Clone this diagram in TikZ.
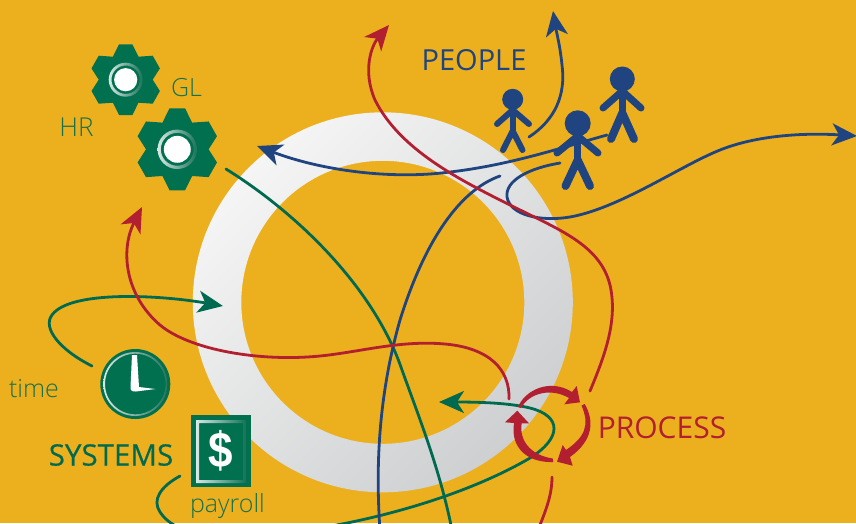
\documentclass[tikz,border=0pt]{standalone}
\usepackage{fontspec}
\setmainfont{Open Sans}
\newfontfamily\lightf{Open Sans Light}
\newfontfamily\semif[FakeBold=0.35]{Open Sans}
\newfontfamily\dollarf[FakeStretch=0.88]{Liberation Sans Bold}
\usetikzlibrary{arrows.meta}
\definecolor{bgc}{HTML}{ECB01E}
\definecolor{grn}{HTML}{00704F}
\definecolor{grnl}{HTML}{006A50}
\definecolor{blu}{HTML}{1F4480}
\definecolor{rd}{HTML}{B21F30}
\definecolor{ringa}{HTML}{F5F5F5}
\definecolor{ringb}{HTML}{CDCFD0}
\tikzset{
 curve/.style={line width=2.8pt,line cap=round},
 grc/.style={curve,draw=grnl},
 rdc/.style={curve,draw=rd},
 blc/.style={curve,draw=blu},
 bighead/.style={-{Stealth[length=25pt,width=22pt,inset=7pt]}},
 person/.style={draw=blu,line cap=round,line join=round},
 lab/.style={inner sep=0pt,anchor=center},
}
\newcommand{\gearshape}[3]{%
 \begin{scope}[shift={(#1,#2)},scale=#3]
  \fill[grn] (-6.7,-35.3)--(6.7,-35.3)--(12.8,-23)--(27,-24)--(34.2,-11.3)--(27,0)--(34.2,11.3)--(27,24)--(12.8,23)--(6.7,35.3)--(-6.7,35.3)--(-12.8,23)--(-27,24)--(-34.2,11.3)--(-27,0)--(-34.2,-11.3)--(-27,-24)--(-12.8,-23)--cycle;
  \shade[even odd rule,left color=white!85!grn,right color=grn!80!gray] (0,0) circle (17) (0,0) circle (14.2);
  \fill[white] (0,0) circle (11.6);
 \end{scope}}
\begin{document}
\begin{tikzpicture}[x=1pt,y=-1pt]
\useasboundingbox (0,0) rectangle (856,523);
\fill[bgc] (0,0) rectangle (856,523);
% ring
\shade[even odd rule,top color=ringa,bottom color=ringb,shading angle=45] (382.8,302.3) circle (190) (382.8,302.3) circle (141.5);
\begin{scope}
\clip (0,0) rectangle (856,523);
% green
\draw[grc] (226,169) .. controls (300,215) and (375,290) .. (402,370) .. controls (420,420) and (440,470) .. (452,530);
\draw[grc,bighead] (92,366) .. controls (60,350) and (42,328) .. (52,315) .. controls (70,290) and (160,295) .. (223,306);
\draw[grc] (180,476) .. controls (160,487) and (152,500) .. (160,512) .. controls (168,524) and (185,536) .. (230,536);
\draw[grc,bighead] (230,536) .. controls (320,536) and (450,505) .. (530,458) .. controls (562,438) and (562,416) .. (530,408) .. controls (510,403) and (480,402) .. (439,402);
% blue
\draw[blc,bighead] (529,137) .. controls (555,120) and (566,95) .. (562,65) .. controls (560,45) and (556,30) .. (553,11);
\draw[blc,bighead] (607,135) .. controls (560,148) and (510,165) .. (450,172) .. controls (390,180) and (320,170) .. (257,146);
\draw[blc] (500,176) .. controls (460,190) and (425,240) .. (400,320) .. controls (380,390) and (375,460) .. (380,530);
\draw[blc,bighead] (560,163) .. controls (530,168) and (505,180) .. (507,197) .. controls (510,215) and (540,222) .. (570,217) .. controls (620,208) and (680,166) .. (720,150) .. controls (760,134) and (810,133) .. (857,136);
% red
\draw[rdc,bighead] (590,391) .. controls (605,355) and (618,320) .. (610,285) .. controls (600,245) and (560,230) .. (510,205) .. controls (460,180) and (400,150) .. (375,100) .. controls (362,70) and (372,45) .. (389,25);
\draw[rdc,bighead] (509,399) .. controls (510,370) and (490,348) .. (445,344) .. controls (400,340) and (360,352) .. (320,356) .. controls (260,362) and (190,350) .. (160,325) .. controls (125,295) and (120,250) .. (142,207);
\draw[rdc] (552,477) .. controls (552,495) and (546,510) .. (538,530);
\end{scope}
% process arrows
\fill[rd] (518,407) .. controls (525,390) and (550,378) .. (572,392) -- (576.7,386) -- (580,402.3) -- (564.3,404.3) -- (569,398) .. controls (552,388) and (530,392) .. (521,408) -- cycle;
\fill[rd] (584.7,404) .. controls (594,420) and (594,440) .. (570,457) -- (572.7,465.7) -- (557,461.7) -- (562.7,445) -- (566,450) .. controls (585,437) and (590,425) .. (581.5,405.5) -- cycle;
\fill[rd] (553.3,462) .. controls (530,463) and (510,450) .. (514,423) -- (505,422.3) -- (517.3,410.7) -- (529,423.3) -- (521.7,423.3) .. controls (519,440) and (530,455) .. (552.7,458.5) -- cycle;
% gears
\gearshape{125.7}{79.7}{1}
\gearshape{177.3}{149.3}{1.16}
% clock
\fill[grn] (135.3,384) circle (35);
\shade[even odd rule,left color=white!85!grn,right color=grn!70!gray] (135.3,384) circle (32) (135.3,384) circle (30.3);
\fill[white] (132,355) -- (137,355) -- (139,387) -- (155.5,389) -- (136,391.5) .. controls (132,392) and (130,390) .. (130.5,387) -- cycle;
% payroll
\fill[grn] (191,415) rectangle (251,487);
\shade[even odd rule,left color=white!85!grn,right color=grn!85!gray] (196,420) rectangle (246,483) (199,423) rectangle (243,480);
\node[lab,text=white,font=\dollarf\fontsize{50}{50}\selectfont] (dollar) at (220.5,451) {\$};
% people
\begin{scope}
\fill[blu] (512.7,99.3) circle (10.5);
\draw[person,line width=6pt] (512.7,108) -- (512.7,134);
\draw[person,line width=6pt] (497,124) -- (512.7,110) -- (529,124);
\draw[person,line width=6pt] (503,150) -- (512.7,131) -- (522.5,150);
\fill[blu] (577.7,123.3) circle (13);
\draw[person,line width=7.5pt] (577.7,135) -- (577.7,162);
\draw[person,line width=7pt] (557,153) -- (577.7,136) -- (598,153);
\draw[person,line width=8pt] (565.5,186) -- (577.7,160) -- (590,186);
\fill[blu] (622.3,79) circle (12.5);
\draw[person,line width=7pt] (603,108) -- (622.3,91) -- (641,108);
\draw[person,line width=7.5pt] (622.3,90) -- (622.3,116);
\draw[person,line width=8pt] (611,139) -- (622.3,113) -- (634,139);
\end{scope}
% labels
\node[lab,text=blu,font=\fontsize{29}{29}\selectfont] (people) at (474,60) {PEOPLE};
\node[lab,text=rd,font=\fontsize{30}{30}\selectfont] (process) at (662,428) {PROCESS};
\node[lab,text=grnl,font=\semif\fontsize{29.5}{30}\selectfont] (systems) at (111,455) {SYSTEMS};
\node[lab,text=grnl!90!bgc,font=\lightf\fontsize{26}{26}\selectfont] (hr) at (76.5,127) {HR};
\node[lab,text=grnl!90!bgc,font=\lightf\fontsize{25}{25}\selectfont] (gl) at (186.5,88) {GL};
\node[lab,text=grnl!90!bgc,font=\lightf\fontsize{25}{25}\selectfont] (time) at (34,389) {time};
\node[lab,text=grnl!90!bgc,font=\lightf\fontsize{25}{25}\selectfont] (payroll) at (227.5,506) {payroll};
\end{tikzpicture}
\end{document}
